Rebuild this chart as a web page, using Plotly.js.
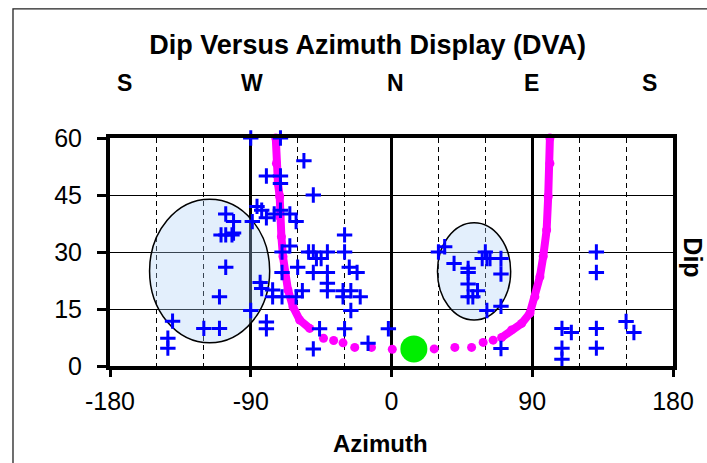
<!DOCTYPE html>
<html>
<head>
<meta charset="utf-8">
<script src="https://cdn.plot.ly/plotly-3.0.1.min.js"></script>
<style>html,body{margin:0;padding:0;background:#fff;}#chart{width:707px;height:463px;}</style>
</head>
<body>
<div id="chart"></div>
<script>
// Pole data (azimuth, dip)
const poleAzimuth = [-90,-71,-56,-80,-71,-71,-50,-86,-83,-71,-80,-75,-65,-61,-106,-101,-89,-109,-106,-102,-101,-30,-65,-70,-53,-50,-41,-30,-48,-45,-106,-60,-50,-41,-27,-22,-70,-84,-83,-41,-41,-76,-76,-70,-61,-57,-31,-31,-26,-20,-26,-110,-90,-140,-120,-110,-80,-80,-46,-30,-2,-143,-143,-50,-15,
  30,34,40,49,49,49,49,52,55,60,58,61,63,70,70,61,70,70,131,131,109,115,131,109,109,131,150,155];
const poleDip = [60,60,54,50,50,48,45,42,41,41,39,40,40,38,40,38,38,34.5,34.5,34.5,35,34.5,31.6,30,30,30,30,30,28.3,28.3,26,26,24.6,24.6,26,24.6,24.6,22,20.4,21.8,19.8,20,18.2,18.2,18.2,19.8,19.8,18.2,19.8,18.2,14.6,18.2,14.6,11.8,9.9,9.9,11.6,9.8,9.8,9.8,9.8,7.3,4.7,4.5,6,
  30,31.4,27,25.7,24.6,21.6,18.2,18.2,19.8,30,28.3,28.3,28.3,28.3,24.2,14.6,15.7,4.6,30,24.6,9.9,8.8,9.9,4.7,1.8,4.7,11.7,8.8];

// Great-circle trace (magenta), dense branches
const arcLeftAz  = [-74,-73.6,-72.6,-71.5,-71.5,-70.4,-69.4,-68.3,-66.2,-63,-58.7,-52.3];
const arcLeftDip = [60,53.3,48.1,44.6,39.3,34,28.8,24.4,20,15.6,12.1,9.9];
const arcRightAz  = [70.4,76.8,83.2,88.5,91.7,94.9,97,99.2,100.2,101.3,101.3];
const arcRightDip = [7.5,9.5,11.2,13.9,18.2,23.5,28.8,35.8,44.6,53.3,60];
// Great-circle trace, separated points near the bottom
const arcDotsAz  = [-43.5,-37,-31,-23.5,-12.8,0.5,27.3,40.5,51.2,58.6,65];
const arcDotsDip = [7.3,6.7,6.1,4.9,4.9,4.4,4.5,4.9,4.9,6.2,6.8];

// Pole of the great circle (green)
const poleAz = [14.3];
const poleDp = [4.5];

// Cluster ellipses [azMin, azMax, dipMin, dipMax]
const clusterWest = [-154.7, -77.9, 6.1, 43.9];
const clusterEast = [29.4, 76.2, 12.1, 37.7];

// Axis ticks and compass labels
const xTicks = [-180,-90,0,90,180];
const yTicks = [0,15,30,45,60];
const compassLabels = ['S','W','N','E','S'];
const compassAz = [-171,-89,2.5,89.5,165];

const FONT = 'Liberation Sans, Arial, sans-serif';

const traces = [
  {x: arcLeftAz, y: arcLeftDip, type:'scatter', mode:'lines+markers', cliponaxis:false,
   line:{color:'#ff00ff', width:8}, marker:{color:'#ff00ff', size:9}, showlegend:false, hoverinfo:'x+y'},
  {x: arcRightAz, y: arcRightDip, type:'scatter', mode:'lines+markers', cliponaxis:false,
   line:{color:'#ff00ff', width:8}, marker:{color:'#ff00ff', size:9}, showlegend:false, hoverinfo:'x+y'},
  {x: arcDotsAz, y: arcDotsDip, type:'scatter', mode:'markers', cliponaxis:false,
   marker:{color:'#ff00ff', size:9}, showlegend:false, hoverinfo:'x+y'},
  {x: poleAz, y: poleDp, type:'scatter', mode:'markers', cliponaxis:false,
   marker:{color:'#00ee00', size:27}, showlegend:false, hoverinfo:'x+y'},
  {x: poleAzimuth, y: poleDip, type:'scatter', mode:'markers', cliponaxis:false,
   marker:{symbol:'cross-thin', size:11, color:'#0000ff', line:{color:'#0000ff', width:3}},
   showlegend:false, hoverinfo:'x+y'}
];

function ellipse(b){
  return {type:'circle', xref:'x', yref:'y', x0:b[0], x1:b[1], y0:b[2], y1:b[3],
    fillcolor:'rgba(170,205,245,0.33)', line:{color:'#000', width:1.5}, layer:'between'};
}

const annotations = compassLabels.map((t,i)=>({
  text:t, x:compassAz[i], xref:'x', y:1.243, yref:'paper', showarrow:false,
  xanchor:'center', yanchor:'middle', font:{family:FONT, size:23, color:'#000', weight:700}
}));
annotations.push({text:'Azimuth', x:0.48, xref:'paper', y:-0.338, yref:'paper', showarrow:false,
  xanchor:'center', yanchor:'middle', font:{family:FONT, size:24, color:'#000', weight:700}});
annotations.push({text:'Dip', x:1.034, xref:'paper', y:0.476, yref:'paper', showarrow:false, textangle:90,
  xanchor:'center', yanchor:'middle', font:{family:FONT, size:25, color:'#000', weight:700}});

const layout = {
  width:707, height:463,
  margin:{l:110, r:34, t:138, b:97},
  paper_bgcolor:'#fff', plot_bgcolor:'#fff',
  font:{family:FONT, color:'#000'},
  title:{text:'Dip Versus Azimuth Display (DVA)', x:0.52, xref:'container', xanchor:'center', y:0.903, yanchor:'middle',
    yref:'container', font:{family:FONT, size:27, color:'#000', weight:700}},
  xaxis:{range:[-180,180], tickmode:'array', tickvals:xTicks, ticktext:xTicks.map(String),
    ticks:'outside', ticklen:7, tickwidth:3, tickcolor:'#000',
    tickfont:{family:FONT, size:25, color:'#000'}, ticklabelstandoff:3,
    showline:true, linewidth:4, linecolor:'#000', mirror:true,
    showgrid:true, gridcolor:'#000', gridwidth:3, zeroline:false,
    minor:{dtick:30, tick0:0, showgrid:true, gridcolor:'#000', gridwidth:1, griddash:'5px,4px', ticks:''},
    fixedrange:true},
  yaxis:{range:[0,60], tickmode:'array', tickvals:yTicks, ticktext:yTicks.map(String),
    ticks:'outside', ticklen:9, tickwidth:3, tickcolor:'#000',
    tickfont:{family:FONT, size:25, color:'#000'}, ticklabelstandoff:10,
    showline:true, linewidth:4, linecolor:'#000', mirror:true,
    showgrid:true, gridcolor:'#000', gridwidth:1, zeroline:false, fixedrange:true},
  shapes:[
    ellipse(clusterWest), ellipse(clusterEast),
    {type:'rect', xref:'paper', yref:'paper', x0:-0.1723, x1:1.3, y0:-0.7, y1:1.566,
     line:{color:'#222', width:1.3}, fillcolor:'rgba(0,0,0,0)', layer:'below'}
  ],
  annotations:annotations,
  showlegend:false
};

Plotly.newPlot('chart', traces, layout, {displayModeBar:false, staticPlot:true});
</script>
</body>
</html>
